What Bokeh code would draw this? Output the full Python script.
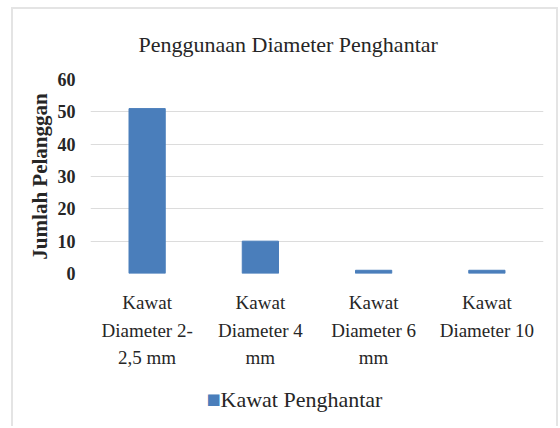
from bokeh.plotting import figure
from bokeh.models import Title, FixedTicker, LinearAxis
from bokeh.embed import file_html
from bokeh.resources import INLINE

categories = ["Kawat Diameter 2-2,5 mm", "Kawat Diameter 4 mm", "Kawat Diameter 6 mm", "Kawat Diameter 10"]
tick_labels = ["Kawat\nDiameter 2-\n2,5 mm", "Kawat\nDiameter 4\nmm", "Kawat\nDiameter 6\nmm", "Kawat\nDiameter 10"]
values = [51, 10, 1, 1]
y_ticks = [0, 10, 20, 30, 40, 50, 60]
series_name = "Kawat Penghantar"
title_text = "Penggunaan  Diameter Penghantar"
y_label = "Jumlah Pelanggan"

SERIF = "Liberation Serif"
TXT = "#262626"
BAR = "#4a7ebb"

positions = list(range(len(categories)))
# where the legend key and its label sit along the x scale (layout only)
legend_key_x = 0.586
legend_text_x = 1.363

p = figure(x_range=(-0.5, len(categories) - 0.5), y_range=(0, 60),
           frame_width=453, frame_height=194,
           output_backend="svg", toolbar_location=None, x_axis_location=None,
           min_border_left=77, min_border_right=13, min_border_top=70, min_border_bottom=153)
p.styles = {"margin-left": "11px", "margin-top": "7px",
            "border-top": "2px solid #e4e4e4", "border-left": "2px solid #e4e4e4",
            "border-right": "2px solid #e4e4e4"}
p.outline_line_color = None
p.background_fill_color = "white"
p.border_fill_color = "white"

r = p.vbar(x=positions, top=values, width=0.32, fill_color=BAR, line_color=BAR)

t = Title(text=title_text, align="left", offset=48, standoff=42, vertical_align="top",
          text_font=SERIF, text_font_size="22px", text_font_style="normal", text_color=TXT)
p.add_layout(t, "above")

p.yaxis.ticker = FixedTicker(ticks=y_ticks)
p.yaxis.axis_line_color = None
p.yaxis.major_tick_line_color = None
p.yaxis.minor_tick_line_color = None
p.yaxis.major_tick_out = 0
p.yaxis.major_tick_in = 0
p.yaxis.major_label_text_font = SERIF
p.yaxis.major_label_text_font_size = "18px"
p.yaxis.major_label_text_font_style = "bold"
p.yaxis.major_label_text_color = TXT
p.yaxis.major_label_standoff = 15
p.yaxis.axis_label = y_label
p.yaxis.axis_label_text_font = SERIF
p.yaxis.axis_label_text_font_size = "21px"
p.yaxis.axis_label_text_font_style = "bold"
p.yaxis.axis_label_text_color = TXT
p.yaxis.axis_label_standoff = 3

def bare_axis(ticks, standoff):
    ax = LinearAxis(ticker=FixedTicker(ticks=ticks))
    ax.axis_line_color = None
    ax.major_tick_line_color = None
    ax.minor_tick_line_color = None
    ax.major_tick_out = 0
    ax.major_tick_in = 0
    ax.major_label_standoff = standoff
    ax.major_label_orientation = "horizontal"
    return ax

# multi-line category labels: one axis per text line
line_sets = [lbl.split("\n") for lbl in tick_labels]
n_lines = max(len(s) for s in line_sets)
standoffs = [18, 4, 3]
for i in range(n_lines):
    ax = bare_axis(positions, standoffs[i])
    ax.major_label_overrides = {pos: (s[i] if i < len(s) else " ") for pos, s in zip(positions, line_sets)}
    ax.major_label_text_font = SERIF
    ax.major_label_text_font_size = "19px"
    ax.major_label_text_color = TXT
    p.add_layout(ax, "below")

p.xgrid.grid_line_color = None
p.ygrid.grid_line_color = "#dcdcdc"
p.ygrid.grid_line_width = 1

# legend row: coloured key and series name
key_ax = bare_axis([legend_key_x], 19)
key_ax.major_label_overrides = {legend_key_x: "\u25A0"}
key_ax.major_label_text_font = "DejaVu Sans"
key_ax.major_label_text_font_size = "15px"
key_ax.major_label_text_color = BAR
p.add_layout(key_ax, "below")

name_ax = bare_axis([legend_text_x], -24)
name_ax.major_label_overrides = {legend_text_x: series_name}
name_ax.major_label_text_font = "Liberation Sans Narrow"
name_ax.major_label_text_font_size = "22px"
name_ax.major_label_text_color = TXT
p.add_layout(name_ax, "below")

open("out.html", "w").write(file_html(p, INLINE))
